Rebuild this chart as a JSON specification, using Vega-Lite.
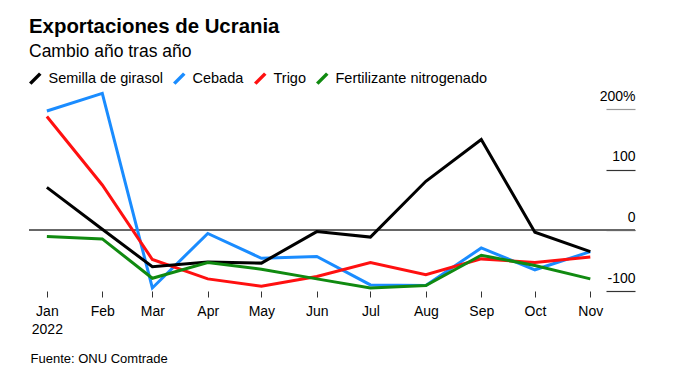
{
  "$schema": "https://vega.github.io/schema/vega-lite/v6.json",
  "width": 606,
  "height": 200,
  "autosize": {"type": "none"},
  "padding": {"left": 29, "top": 91, "right": 38, "bottom": 92},
  "background": "white",
  "config": {"font": "Liberation Sans", "view": {"stroke": null}},
  "title": {
    "text": "Exportaciones de Ucrania",
    "subtitle": "Cambio año tras año",
    "anchor": "start",
    "frame": "group",
    "font": "Liberation Sans",
    "fontSize": 20.4,
    "fontWeight": "bold",
    "color": "#000",
    "subtitleFont": "Liberation Sans",
    "subtitleFontSize": 17.5,
    "subtitleColor": "#000",
    "subtitlePadding": 5,
    "offset": 11
  },
  "data": {
    "values": [
      {"month": "2022-01-01", "series": "Cebada", "value": 197},
      {"month": "2022-02-01", "series": "Cebada", "value": 226},
      {"month": "2022-03-01", "series": "Cebada", "value": -95},
      {"month": "2022-04-01", "series": "Cebada", "value": -5},
      {"month": "2022-05-01", "series": "Cebada", "value": -46},
      {"month": "2022-06-01", "series": "Cebada", "value": -43},
      {"month": "2022-07-01", "series": "Cebada", "value": -90},
      {"month": "2022-08-01", "series": "Cebada", "value": -91},
      {"month": "2022-09-01", "series": "Cebada", "value": -29},
      {"month": "2022-10-01", "series": "Cebada", "value": -65},
      {"month": "2022-11-01", "series": "Cebada", "value": -35},
      {"month": "2022-01-01", "series": "Trigo", "value": 188},
      {"month": "2022-02-01", "series": "Trigo", "value": 75},
      {"month": "2022-03-01", "series": "Trigo", "value": -48},
      {"month": "2022-04-01", "series": "Trigo", "value": -80},
      {"month": "2022-05-01", "series": "Trigo", "value": -92},
      {"month": "2022-06-01", "series": "Trigo", "value": -76},
      {"month": "2022-07-01", "series": "Trigo", "value": -53},
      {"month": "2022-08-01", "series": "Trigo", "value": -73},
      {"month": "2022-09-01", "series": "Trigo", "value": -47},
      {"month": "2022-10-01", "series": "Trigo", "value": -53},
      {"month": "2022-11-01", "series": "Trigo", "value": -44},
      {"month": "2022-01-01", "series": "Semilla de girasol", "value": 71},
      {"month": "2022-02-01", "series": "Semilla de girasol", "value": 2},
      {"month": "2022-03-01", "series": "Semilla de girasol", "value": -60},
      {"month": "2022-04-01", "series": "Semilla de girasol", "value": -52},
      {"month": "2022-05-01", "series": "Semilla de girasol", "value": -54},
      {"month": "2022-06-01", "series": "Semilla de girasol", "value": -2},
      {"month": "2022-07-01", "series": "Semilla de girasol", "value": -11},
      {"month": "2022-08-01", "series": "Semilla de girasol", "value": 81},
      {"month": "2022-09-01", "series": "Semilla de girasol", "value": 150},
      {"month": "2022-10-01", "series": "Semilla de girasol", "value": -3},
      {"month": "2022-11-01", "series": "Semilla de girasol", "value": -35},
      {"month": "2022-01-01", "series": "Fertilizante nitrogenado", "value": -10},
      {"month": "2022-02-01", "series": "Fertilizante nitrogenado", "value": -14},
      {"month": "2022-03-01", "series": "Fertilizante nitrogenado", "value": -79},
      {"month": "2022-04-01", "series": "Fertilizante nitrogenado", "value": -53},
      {"month": "2022-05-01", "series": "Fertilizante nitrogenado", "value": -64},
      {"month": "2022-06-01", "series": "Fertilizante nitrogenado", "value": -80},
      {"month": "2022-07-01", "series": "Fertilizante nitrogenado", "value": -95},
      {"month": "2022-08-01", "series": "Fertilizante nitrogenado", "value": -91},
      {"month": "2022-09-01", "series": "Fertilizante nitrogenado", "value": -41},
      {"month": "2022-10-01", "series": "Fertilizante nitrogenado", "value": -58},
      {"month": "2022-11-01", "series": "Fertilizante nitrogenado", "value": -80}
    ]
  },
  "layer": [
    {
      "mark": {"type": "rule", "color": "#666", "strokeWidth": 1},
      "encoding": {"y": {"datum": 0, "type": "quantitative"}}
    },
    {
      "mark": {"type": "line", "strokeWidth": 3},
      "encoding": {
        "x": {
          "field": "month",
          "type": "temporal",
          "scale": {
            "type": "utc",
            "domain": [
              {"year": 2021, "month": 12, "date": 22, "utc": true},
              {"year": 2022, "month": 11, "date": 26, "utc": true}
            ]
          },
          "axis": {
            "values": [
              {"year": 2022, "month": 1, "date": 1, "utc": true},
              {"year": 2022, "month": 2, "date": 1, "utc": true},
              {"year": 2022, "month": 3, "date": 1, "utc": true},
              {"year": 2022, "month": 4, "date": 1, "utc": true},
              {"year": 2022, "month": 5, "date": 1, "utc": true},
              {"year": 2022, "month": 6, "date": 1, "utc": true},
              {"year": 2022, "month": 7, "date": 1, "utc": true},
              {"year": 2022, "month": 8, "date": 1, "utc": true},
              {"year": 2022, "month": 9, "date": 1, "utc": true},
              {"year": 2022, "month": 10, "date": 1, "utc": true},
              {"year": 2022, "month": 11, "date": 1, "utc": true}
            ],
            "labelExpr": "utcmonth(datum.value) == 0 ? [utcFormat(datum.value, '%b'), utcFormat(datum.value, '%Y')] : utcFormat(datum.value, '%b')",
            "domain": false,
            "grid": false,
            "tickSize": 6,
            "tickColor": "#333",
            "labelFontSize": 14,
            "labelColor": "#000",
            "labelPadding": 7,
            "labelLineHeight": 18,
            "labelFlush": false,
            "labelOverlap": false,
            "title": "Fuente: ONU Comtrade",
            "titleX": 1,
            "titleY": 71,
            "titleAlign": "left",
            "titleAnchor": "start",
            "titleBaseline": "alphabetic",
            "titleFontSize": 13,
            "titleFontWeight": "normal",
            "titleColor": "#000"
          }
        },
        "y": {
          "field": "value",
          "type": "quantitative",
          "scale": {"domain": [-100, 230], "nice": false, "zero": false},
          "axis": {
            "orient": "right",
            "offset": -29,
            "tickSize": 29,
            "domain": false,
            "grid": false,
            "values": [-100, 0, 100, 200],
            "labelExpr": "datum.value == 200 ? '200%' : '' + datum.value",
            "labelAlign": "right",
            "labelBaseline": "alphabetic",
            "labelOffset": -9,
            "labelPadding": 0,
            "labelFontSize": 14,
            "labelColor": "#000",
            "tickColor": {"condition": {"test": "datum.value == 200", "value": "#999"}, "value": "#333"},
            "tickWidth": 1.2,
            "title": null
          }
        },
        "color": {
          "field": "series",
          "type": "nominal",
          "scale": {
            "domain": ["Semilla de girasol", "Cebada", "Trigo", "Fertilizante nitrogenado"],
            "range": ["#000000", "#1a8cff", "#ff1010", "#108a10"]
          },
          "legend": {
            "orient": "none",
            "legendX": -1,
            "legendY": -20,
            "direction": "horizontal",
            "title": null,
            "symbolType": "M-1,1L1,-1",
            "symbolSize": 100,
            "symbolStrokeWidth": 3.5,
            "labelFontSize": 14.5,
            "labelColor": "#000",
            "labelOffset": 6,
            "columnPadding": 4,
            "padding": 0,
            "labelLimit": 300
          }
        },
        "order": {"field": "month"}
      }
    }
  ]
}
